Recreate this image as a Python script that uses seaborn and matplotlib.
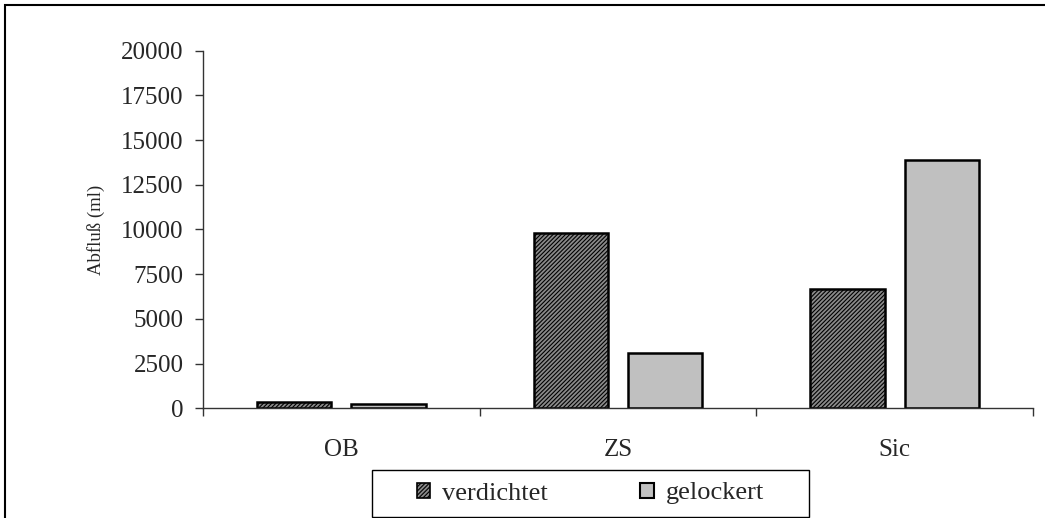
import matplotlib
matplotlib.use("Agg")
import matplotlib.pyplot as plt
from matplotlib.patches import Patch, Rectangle
import seaborn as sns
import pandas as pd

sites = ["OB", "ZS", "Sic"]
states = ["verdichtet", "gelockert"]
verdichtet = [330, 9800, 6700]
gelockert = [220, 3100, 13900]
yticks = [0, 2500, 5000, 7500, 10000, 12500, 15000, 17500, 20000]
ylabel = "Abfluß (ml)"

df = pd.DataFrame({
    "site": sites * 2,
    "state": [states[0]] * 3 + [states[1]] * 3,
    "value": verdichtet + gelockert,
})

sns.set_style("white")
plt.rcParams["font.family"] = ["Liberation Serif", "DejaVu Serif"]
plt.rcParams["hatch.linewidth"] = 0.8

W, H = 1045, 518
fig = plt.figure(figsize=(W / 100, H / 100), dpi=100)
ax = fig.add_axes([203 / W, (H - 408.3) / H, 830 / W, 357.6 / H])

colors = {"verdichtet": "#8a8a8a", "gelockert": "#c0c0c0"}
HATCH = "////////"
sns.barplot(data=df, x="site", y="value", hue="state", order=sites,
            hue_order=states, palette=colors, width=0.68, gap=0.21,
            edgecolor="black", linewidth=1.8, ax=ax, legend=False,
            saturation=1)
for bar in ax.containers[0]:
    bar.set_hatch(HATCH)

ax.set_xlim(-0.5, 2.5)
ax.set_ylim(0, 20000)
ax.set_yticks(yticks)
ax.set_yticklabels([str(t) for t in yticks])
ax.set_xticks(range(len(sites)))
ax.set_xticklabels(sites)
ax.set_xticks([-0.5, 0.5, 1.5, 2.5], minor=True)
ax.tick_params(axis="x", which="major", length=0, pad=22, labelsize=18)
ax.tick_params(axis="x", which="minor", length=6, width=1, color="#333333",
               direction="out", bottom=True)
ax.tick_params(axis="y", length=6, width=1, color="#333333", direction="out",
               left=True, pad=8, labelsize=18)
ax.set_xlabel("")
ax.set_ylabel(ylabel, fontsize=13.5, family=["Liberation Serif"])
ax.yaxis.set_label_coords(-0.118, 0.5)
for s in ["top", "right"]:
    ax.spines[s].set_visible(False)
for s in ["left", "bottom"]:
    ax.spines[s].set_color("#333333")
    ax.spines[s].set_linewidth(1)

handles = [
    Patch(facecolor=colors["verdichtet"], edgecolor="black", hatch=HATCH, linewidth=1.2),
    Patch(facecolor=colors["gelockert"], edgecolor="black", linewidth=1.5),
]
leg = fig.legend(handles, states, loc="center",
                 bbox_to_anchor=(590.5 / W, 1 - 493.5 / H),
                 ncol=2, prop={"family": "Liberation Serif", "size": 19},
                 frameon=False,
                 borderaxespad=0, handlelength=0.5, handleheight=0.5,
                 handletextpad=0.45, columnspacing=3.5, borderpad=0)

fig.patches.append(Rectangle((372 / W, 1 - 517 / H), 437 / W, 47 / H,
                             transform=fig.transFigure, fill=False,
                             edgecolor="black", linewidth=1))
fig.patches.append(Rectangle((4.5 / W, -0.1), 2, 1 - 4.5 / H + 0.1,
                             transform=fig.transFigure, fill=False,
                             edgecolor="black", linewidth=1.5))

fig.savefig("out.png", dpi=100)
